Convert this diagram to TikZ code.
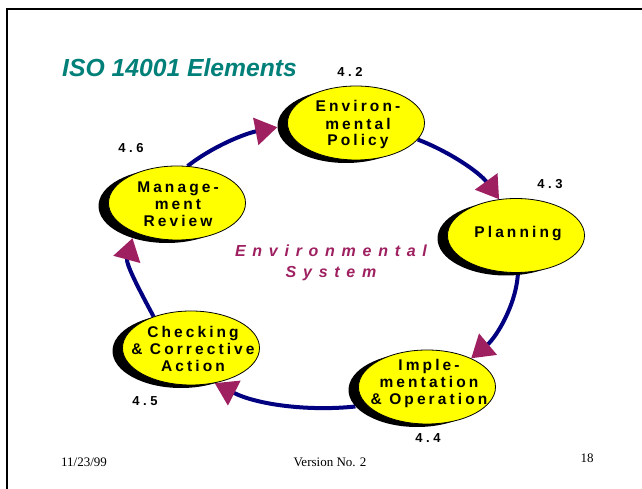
\documentclass[tikz,border=0pt]{standalone}
\usepackage{fontspec}
\setmainfont{Liberation Serif}
\newfontfamily\elfont{Liberation Sans}[LetterSpace=20]
\newfontfamily\ctrfont{Liberation Sans}[LetterSpace=42]
\newfontfamily\numfont{Liberation Sans}[LetterSpace=27]
\newfontfamily\titlefont{Liberation Sans}
\usetikzlibrary{arrows.meta,shapes.geometric,backgrounds}
\definecolor{tealt}{RGB}{0,128,120}
\definecolor{mag}{RGB}{158,32,96}
\definecolor{navyc}{RGB}{0,0,128}
\definecolor{yel}{RGB}{255,255,0}
\begin{document}
\begin{tikzpicture}[x=1pt,y=1pt,
  shad/.style={ellipse, fill=black, minimum width=137pt, minimum height=74pt, inner sep=0pt},
  ybox/.style={ellipse, fill=yel, draw=black, line width=0.8pt, minimum width=137pt, minimum height=74pt, inner sep=0pt},
  lab/.style={font=\elfont\bfseries\fontsize{15.5}{17}\selectfont, align=center, inner sep=0pt},
  num/.style={font=\numfont\bfseries\fontsize{13}{15}\selectfont, inner sep=0pt},
  conn/.style={draw=navyc, line width=4pt, looseness=0.85, -{Triangle[length=22pt,width=27pt,color=mag]}},
  foot/.style={font=\fontsize{13}{15}\selectfont, inner sep=0pt}]
\useasboundingbox (0,0) rectangle (642,489);
% frame
\draw[line width=2pt] (7,0) -- (7,480) -- (642,480);
% title
\node[font=\titlefont\bfseries\itshape\fontsize{24.7}{28}\selectfont, text=tealt, anchor=base west, inner sep=0pt] (title) at (62,412) {ISO 14001 Elements};
% elements: shadows then yellow ellipses
\node[shad] (eps) at (346,363) {};
\node[ybox] (ep) at (356,366) {};
\node[lab] (ept) at (358,364) {Environ-\\mental\\Policy};

\node[shad] (pls) at (506,250.5) {};
\node[ybox] (pl) at (516,253.5) {};
\node[lab] (plt) at (518,255) {Planning};

\node[shad] (ims) at (417,99) {};
\node[ybox] (im) at (427,102) {};
\node[lab] (imt) at (429,106) {Imple-\\mentation\\\& Operation};

\node[shad] (cks) at (181,138) {};
\node[ybox] (ck) at (191,141) {};
\node[lab] (ckt) at (193,140) {Checking\\\& Corrective\\Action};

\node[shad] (mrs) at (167,283) {};
\node[ybox] (mr) at (177,286) {};
\node[lab] (mrt) at (178,285) {Manage-\\ment\\Review};

% connectors
\begin{scope}[on background layer]
\fill[white] (0,0) rectangle (642,489);
\draw[conn] (mr.74) to[out=38,in=191] (eps.181);
\draw[conn] (ep.-15.6) to[out=-21,in=126] (pl.115);
\draw[conn] (pl.-87) to[out=-93,in=40] (im.33);
\draw[conn] (ims.195) to[out=186,in=-27] (ck.-56);
\draw[conn] (ck.140) to[out=118,in=255] (mrs.223);
\end{scope}

% numbers
\node[num] (n42) at (350,417) {4.2};
\node[num] (n43) at (550,305) {4.3};
\node[num] (n46) at (131,341) {4.6};
\node[num] (n45) at (145,88) {4.5};
\node[num] (n44) at (428,51) {4.4};

% centre text
\node[font=\ctrfont\bfseries\itshape\fontsize{16}{21}\selectfont, text=mag, align=center, inner sep=0pt] (sys) at (331,226.5) {Environmental\\System};

% footer
\node[foot] (date) at (84,27) {11/23/99};
\node[foot] (ver) at (330,27) {Version No. 2};
\node[foot] (pg) at (587,31) {18};
\end{tikzpicture}
\end{document}
